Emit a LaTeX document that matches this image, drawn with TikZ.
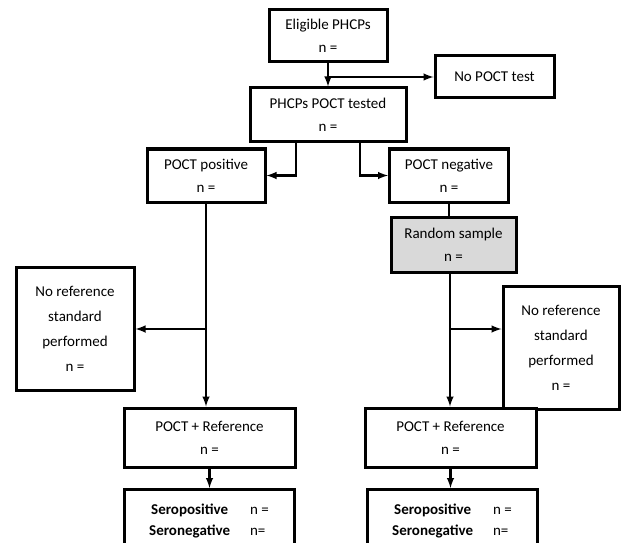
\documentclass[tikz,border=0pt]{standalone}
\usepackage{fontspec}
\setmainfont{Carlito}
\usepackage{tikz}
\usetikzlibrary{arrows}
\usetikzlibrary{calc}

\begin{document}
\begin{tikzpicture}[x=1pt,y=-1pt,
    box/.style={draw=black,line width=3pt,fill=white,align=center,inner sep=0pt,
      font=\fontsize{15}{23}\selectfont},
    flow/.style={black,line width=2.4pt,-latex},
    link/.style={black,line width=2.4pt}]
\useasboundingbox (0,0) rectangle (622,543);
\clip (0,0) rectangle (622,543);
%% top of the flow
\node[box,minimum width=118pt,minimum height=52pt] (elig) at (328,36) {Eligible PHCPs\\n =};
\node[box,minimum width=119pt,minimum height=42pt] (nopoct) at (494.5,77) {No POCT test};
\node[box,minimum width=156pt,minimum height=54pt] (tested) at (328,115) {PHCPs POCT tested\\n =};
%% split by result
\node[box,minimum width=118pt,minimum height=53pt] (pos) at (206,175.5) {POCT positive\\n =};
\node[box,minimum width=119pt,minimum height=53pt] (neg) at (449,175.5) {POCT negative\\n =};
\node[box,fill=gray!30,minimum width=125pt,minimum height=55pt] (rand) at (453.5,244.5) {Random sample\\n =};
%% no reference standard
\node[box,minimum width=118pt,minimum height=123pt,font=\fontsize{15}{25}\selectfont] (norefL) at (75,329) {No reference\\standard\\performed\\n =};
\node[box,minimum width=116pt,minimum height=123pt,font=\fontsize{15}{25}\selectfont] (norefR) at (561,348) {No reference\\standard\\performed\\n =};
%% reference standard done
\node[box,minimum width=171pt,minimum height=59pt] (refL) at (209.5,437.5) {POCT + Reference\\n =};
\node[box,minimum width=171pt,minimum height=59pt] (refR) at (450.5,437.5) {POCT + Reference\\n =};
\node[box,minimum width=170pt,minimum height=62pt,anchor=north,font=\fontsize{15}{21}\selectfont] (seroL) at (209,488)
  {\begin{tabular}{@{}c@{\hspace{20pt}}l@{}}\textbf{Seropositive} & n =\\ \textbf{Seronegative} & n=\end{tabular}};
\node[box,minimum width=170pt,minimum height=62pt,anchor=north,font=\fontsize{15}{21}\selectfont] (seroR) at (452,488)
  {\begin{tabular}{@{}c@{\hspace{20pt}}l@{}}\textbf{Seropositive} & n =\\ \textbf{Seronegative} & n=\end{tabular}};
%% connectors
\draw[flow] (elig.south) -- (tested.north);
\draw[flow] (elig.south |- nopoct.west) -- (nopoct.west);
\draw[flow] ([xshift=-32pt]tested.south) |- (pos.east);
\draw[flow] ([xshift=32pt]tested.south) |- (neg.west);
\draw[link] (neg.south) -- (neg.south |- rand.north);
\draw[flow] (pos.south) -- (pos.south |- refL.north);
\draw[flow] (pos.south |- norefL.east) -- (norefL.east);
\coordinate (splitR) at (450,329);
\draw[flow] (rand.south -| splitR) -- (refR.north -| splitR);
\draw[flow] (splitR) -- (splitR -| norefR.west);
\draw[flow] (refL.south) -- (refL.south |- seroL.north);
\draw[flow] (refR.south) -- (refR.south |- seroR.north);
\end{tikzpicture}
\end{document}
